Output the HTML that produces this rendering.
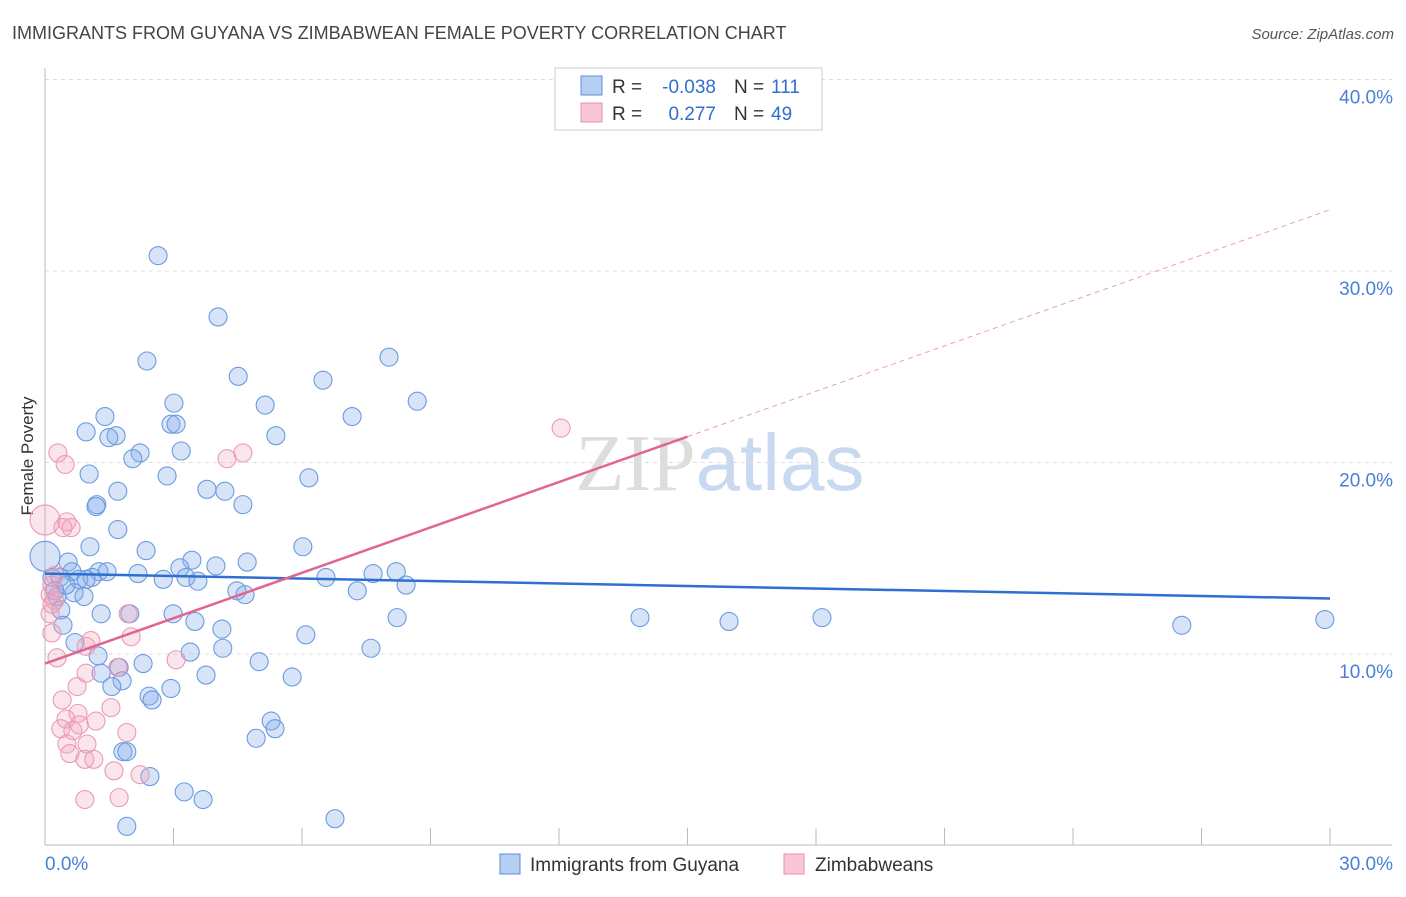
<!DOCTYPE html>
<html><head><meta charset="utf-8"><style>
body{margin:0;background:#fff;font-family:"Liberation Sans",sans-serif;}
svg text{font-family:"Liberation Sans",sans-serif;}
</style></head><body>
<svg id="chart" width="1406" height="892" xmlns="http://www.w3.org/2000/svg">
<text x="12" y="39" font-size="18" fill="#444">IMMIGRANTS FROM GUYANA VS ZIMBABWEAN FEMALE POVERTY CORRELATION CHART</text>
<text x="1394" y="39" font-size="15" fill="#555" font-style="italic" text-anchor="end">Source: ZipAtlas.com</text>
<text transform="translate(33,456) rotate(-90)" font-size="17" fill="#333" text-anchor="middle">Female Poverty</text>
<text x="720" y="490" font-size="80" text-anchor="middle"><tspan fill="#ddd" font-family="Liberation Serif">ZIP</tspan><tspan fill="#c9daf0">atlas</tspan></text>
<g id="grid"></g><g id="axes"></g><g id="pts"></g><g id="trends"></g>
<g>
<rect x="555" y="68" width="267" height="62" fill="#fff" stroke="#ccc"/>
<rect x="581" y="76" width="21" height="19" fill="#b5cff3" stroke="#5b8fd9"/>
<rect x="581" y="103" width="21" height="19" fill="#f9c6d6" stroke="#e891b0"/>
<text x="612" y="93" font-size="19" fill="#333">R =</text>
<text x="716" y="93" font-size="19" fill="#2f6fd0" text-anchor="end">-0.038</text>
<text x="734" y="93" font-size="19" fill="#333">N =</text>
<text x="771" y="93" font-size="19" fill="#2f6fd0">111</text>
<text x="612" y="120" font-size="19" fill="#333">R =</text>
<text x="716" y="120" font-size="19" fill="#2f6fd0" text-anchor="end">0.277</text>
<text x="734" y="120" font-size="19" fill="#333">N =</text>
<text x="771" y="120" font-size="19" fill="#2f6fd0">49</text>
</g>
<g>
<rect x="500" y="854" width="20" height="20" fill="#b5cff3" stroke="#5b8fd9"/>
<text x="530" y="871" font-size="19" fill="#333">Immigrants from Guyana</text>
<rect x="784" y="854" width="20" height="20" fill="#f9c6d6" stroke="#e891b0"/>
<text x="815" y="871" font-size="19" fill="#333">Zimbabweans</text>
</g>
</svg>
<script>
const blueX=[2.64,4.04,2.38,4.51,6.49,8.03,8.69,7.17,5.14,3.01,1.40,0.96,1.66,1.49,2.94,3.06,5.39,2.22,2.05,3.18,1.03,2.85,6.16,1.70,3.78,4.20,4.62,1.21,1.19,1.70,1.05,2.36,6.02,0,0.54,3.43,4.72,3.15,3.99,1.26,0.63,1.45,2.17,1.10,0.79,0.35,0.96,2.76,3.29,3.57,6.56,7.66,8.20,8.43,7.29,4.48,4.67,0.68,0.91,0.28,0.37,1.31,2.99,1.98,13.89,15.97,18.14,26.54,29.88,8.22,3.50,0.42,4.13,6.09,0.70,4.15,7.61,3.39,1.24,2.29,5.00,1.73,1.31,5.77,3.76,1.80,1.56,2.94,2.43,2.50,5.28,5.37,4.93,1.82,1.91,2.45,3.25,3.69,1.91,6.77,0.49,0.16,0.23];
const blueY=[30.8,27.6,25.3,24.5,24.3,25.5,23.2,22.4,23.0,23.1,22.4,21.6,21.4,21.3,22.0,22.0,21.4,20.5,20.2,20.6,19.4,19.3,19.2,18.5,18.6,18.5,17.8,17.8,17.7,16.5,15.6,15.4,15.6,15.1,14.8,14.9,14.8,14.5,14.6,14.3,14.3,14.3,14.2,14.0,13.9,14.0,13.9,13.9,14.0,13.8,14.0,14.2,14.3,13.6,13.3,13.3,13.1,13.2,13.0,13.0,12.3,12.1,12.1,12.1,11.9,11.7,11.9,11.5,11.8,11.9,11.7,11.5,11.3,11.0,10.6,10.3,10.3,10.1,9.9,9.5,9.6,9.3,9.0,8.8,8.9,8.6,8.3,8.2,7.8,7.6,6.5,6.1,5.6,4.9,4.9,3.6,2.8,2.4,1.0,1.4,13.6,14.0,13.3];
const pinkX=[12.05,4.62,4.25,0.30,0.47,0,0.51,0.61,0.42,0.23,0.16,0.12,0.23,1.94,2.01,0.12,0.16,1.07,0.28,0.96,3.06,1.70,0.96,0.75,0.40,1.54,0.77,0.49,0.37,1.19,0.80,0.65,1.91,0.98,0.51,0.58,0.93,1.14,1.61,2.22,0.93,1.73,0.16];
const pinkY=[21.8,20.5,20.2,20.5,19.9,17.0,16.9,16.6,16.6,14.1,13.6,13.1,12.8,12.1,10.9,12.1,11.1,10.7,9.8,10.4,9.7,9.3,9.0,8.3,7.6,7.2,6.9,6.6,6.1,6.5,6.3,6.0,5.9,5.3,5.3,4.8,4.5,4.5,3.9,3.7,2.4,2.5,12.6];
const blueTrend=[14.2,12.9];
const pinkTrend=[9.5,33.2];
const pinkSolidEnd=15;
const yTicks=[10,20,30,40];
const yTickLabels=["10.0%","20.0%","30.0%","40.0%"];
const xS=v=>45+v*1285/30, yS=v=>845.5-v*19.15;
const NS="http://www.w3.org/2000/svg";
function mk(p,t,a){const e=document.createElementNS(NS,t);for(const k in a)e.setAttribute(k,a[k]);document.getElementById(p).appendChild(e);return e;}
yTicks.forEach((t,i)=>{
 const l=mk('grid','line',{x1:45,x2:1392,y1:yS(t),y2:yS(t),stroke:'#ddd','stroke-dasharray':'4,4'});
 
 
 const tx=mk('grid','text',{x:1393,y:yS(t)+24,'font-size':19,fill:'#4a7fd6','text-anchor':'end'});
 tx.textContent=yTickLabels[i];
 
 
});
let a=mk('axes','line',{x1:45,x2:45,y1:68,y2:845,stroke:'#bbb'});


a=mk('axes','line',{x1:45,x2:1392,y1:845,y2:845,stroke:'#bbb'});


for(let i=1;i<=10;i++){const t=mk('axes','line',{x1:xS(i*3),x2:xS(i*3),y1:828,y2:845,stroke:'#bbb'});
 
 }
let t=mk('axes','text',{x:45,y:870,'font-size':19,fill:'#4a7fd6'});t.textContent='0.0%';


t=mk('axes','text',{x:1393,y:870,'font-size':19,fill:'#4a7fd6','text-anchor':'end'});t.textContent='30.0%';


blueX.forEach((x,i)=>{const c=mk('pts','circle',{cx:xS(x),cy:yS(blueY[i]),r:x===0?15:9,fill:'rgba(130,172,232,0.32)',stroke:'#6a9be0','stroke-width':1.1});
 
 });
pinkX.forEach((x,i)=>{const c=mk('pts','circle',{cx:xS(x),cy:yS(pinkY[i]),r:x===0?15:9,fill:'rgba(242,160,188,0.28)',stroke:'#eb9ab6','stroke-width':1.1});
 
 });
let l=mk('trends','line',{x1:xS(0),y1:yS(blueTrend[0]),x2:xS(30),y2:yS(blueTrend[1]),stroke:'#2f6fd0','stroke-width':2.5});


const pm=pinkTrend[0]+(pinkTrend[1]-pinkTrend[0])*pinkSolidEnd/30;
l=mk('trends','line',{x1:xS(0),y1:yS(pinkTrend[0]),x2:xS(pinkSolidEnd),y2:yS(pm),stroke:'#e06690','stroke-width':2.5});


l=mk('trends','line',{x1:xS(pinkSolidEnd),y1:yS(pm),x2:xS(30),y2:yS(pinkTrend[1]),stroke:'#e8a0b8','stroke-width':1,'stroke-dasharray':'5,4'});


</script>
</body></html>
